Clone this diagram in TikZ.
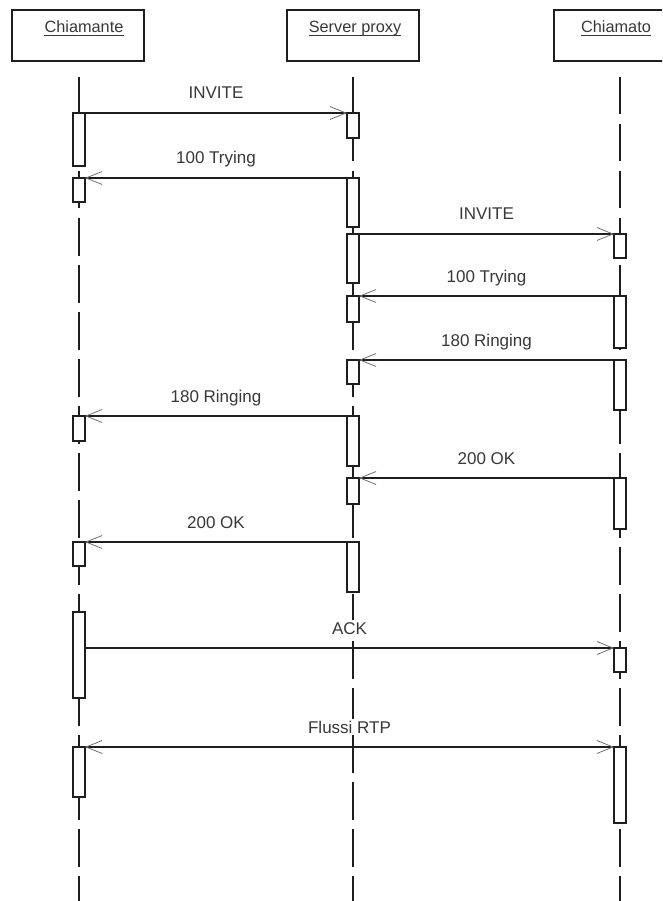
\documentclass[tikz,border=0pt]{standalone}
\usepackage{fontspec}
\setmainfont{Liberation Sans}
\usetikzlibrary{arrows.meta,calc}
\definecolor{txtgray}{HTML}{383838}
\definecolor{tipgray}{HTML}{707070}
\definecolor{linecol}{HTML}{1E1E1E}
\begin{document}
\begin{tikzpicture}[x=1pt,y=-1pt,
  every node/.style={font=\fontsize{17}{20}\selectfont, text=txtgray},
  head/.style={draw=linecol, line width=1.5pt, minimum width=132pt, minimum height=51pt, inner sep=0pt, outer sep=0pt},
  headtxt/.style={anchor=base, inner sep=0pt, font=\fontsize{16.3}{19}\selectfont},
  ul/.style={draw=txtgray, line width=1.2pt},
  life/.style={draw=linecol, line width=1.3pt, dash pattern=on 37.5pt off 9.5pt},
  act/.style={draw=linecol, fill=white, line width=1.3pt, minimum width=12pt, inner sep=0pt, outer sep=0pt, anchor=north},
  msg/.style={draw=linecol, line width=1.3pt, -{Straight Barb[length=16pt,width=13pt,line width=0.8pt,color=tipgray]}},
  bmsg/.style={draw=linecol, line width=1.3pt, {Straight Barb[length=16pt,width=13pt,line width=0.8pt,color=tipgray]}-{Straight Barb[length=16pt,width=13pt,line width=0.8pt,color=tipgray]}},
  lbl/.style={anchor=base, yshift=14pt, fill=white, inner sep=2pt}
]
\useasboundingbox (0,0) rectangle (662,901);
\clip (0,0) rectangle (662,901);

% heads
\node[head, anchor=north west] (H1) at (12,10) {};
\node[head, anchor=north west] (H2) at (287,10) {};
\node[head, anchor=north west] (H3) at (554,10) {};
\node[headtxt] (T1) at (84,33) {Chiamante};
\node[headtxt] (T2) at (355,33) {Server proxy};
\node[headtxt] (T3) at (616,33) {Chiamato};
\draw[ul] ($(T1.base west)+(0,2.5)$) -- ($(T1.base east)+(0,2.5)$);
\draw[ul] ($(T2.base west)+(0,2.5)$) -- ($(T2.base east)+(0,2.5)$);
\draw[ul] ($(T3.base west)+(0,2.5)$) -- ($(T3.base east)+(0,2.5)$);

% lifelines
\coordinate (L1t) at (79,77);  \coordinate (L1b) at (79,901);
\coordinate (L2t) at (353,77); \coordinate (L2b) at (353,901);
\coordinate (L3t) at (620,77); \coordinate (L3b) at (620,901);
\draw[life] (L1t) -- (L1b);
\draw[life] (L2t) -- (L2b);
\draw[life] (L3t) -- (L3b);

% activations: Chiamante
\node[act, minimum height=53pt] (c1) at (79,113) {};
\node[act, minimum height=24pt] (c2) at (79,178) {};
\node[act, minimum height=25pt] (c3) at (79,416) {};
\node[act, minimum height=24pt] (c4) at (79,542) {};
\node[act, minimum height=86pt] (c5) at (79,612) {};
\node[act, minimum height=50pt] (c6) at (79,747) {};
% Server proxy
\node[act, minimum height=25pt] (s1) at (353,113) {};
\node[act, minimum height=49pt] (s2) at (353,178) {};
\node[act, minimum height=49pt] (s3) at (353,234) {};
\node[act, minimum height=26pt] (s4) at (353,296) {};
\node[act, minimum height=24pt] (s5) at (353,360) {};
\node[act, minimum height=50pt] (s6) at (353,416) {};
\node[act, minimum height=26pt] (s7) at (353,478) {};
\node[act, minimum height=50pt] (s8) at (353,542) {};
% Chiamato
\node[act, minimum height=24pt] (d1) at (620,234) {};
\node[act, minimum height=52pt] (d2) at (620,296) {};
\node[act, minimum height=50pt] (d3) at (620,360) {};
\node[act, minimum height=51pt] (d4) at (620,478) {};
\node[act, minimum height=24pt] (d5) at (620,648) {};
\node[act, minimum height=76pt] (d6) at (620,747) {};

% messages
\draw[msg] (c1.north east) -- node[lbl] (m1) {INVITE} (s1.north west);
\draw[msg] (s2.north west) -- node[lbl] (m2) {100 Trying} (c2.north east);
\draw[msg] (s3.north east) -- node[lbl] (m3) {INVITE} (d1.north west);
\draw[msg] (d2.north west) -- node[lbl] (m4) {100 Trying} (s4.north east);
\draw[msg] (d3.north west) -- node[lbl] (m5) {180 Ringing} (s5.north east);
\draw[msg] (s6.north west) -- node[lbl] (m6) {180 Ringing} (c3.north east);
\draw[msg] (d4.north west) -- node[lbl] (m7) {200 OK} (s7.north east);
\draw[msg] (s8.north west) -- node[lbl] (m8) {200 OK} (c4.north east);
\draw[msg] (c5.east |- d5.north) -- node[lbl] (m9) {ACK} (d5.north west);
\draw[bmsg] (c6.north east) -- node[lbl] (m10) {Flussi RTP} (d6.north west);
\end{tikzpicture}
\end{document}
